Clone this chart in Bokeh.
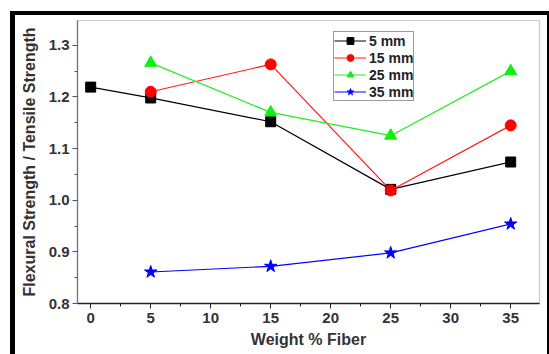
from bokeh.plotting import figure
from bokeh.models import (SingleIntervalTicker, Legend, LegendItem, Range1d, Div,
                          NumeralTickFormatter)
from bokeh.layouts import column, row
from bokeh.embed import file_html
from bokeh.resources import INLINE

# ---- data ----
x_5mm = [0, 5, 15, 25, 35]
y_5mm = [1.219, 1.198, 1.152, 1.021, 1.074]
x_15mm = [5, 15, 25, 35]
y_15mm = [1.210, 1.263, 1.019, 1.145]
x_25mm = [5, 15, 25, 35]
y_25mm = [1.266, 1.170, 1.125, 1.250]
x_35mm = [5, 15, 25, 35]
y_35mm = [0.861, 0.872, 0.898, 0.954]
series_labels = ["5 mm", "15 mm", "25 mm", "35 mm"]

FONT = "Liberation Sans"

p = figure(width=532, height=339, output_backend="svg", toolbar_location=None,
           x_range=Range1d(-1.1, 37.4), y_range=Range1d(0.8, 1.348),
           min_border_left=62, min_border_right=8, min_border_top=5, min_border_bottom=51)
p.background_fill_color = "white"
p.border_fill_color = "white"
p.outline_line_color = "#c8c8c8"
p.outline_line_width = 1.2
p.grid.visible = False

p.xaxis.ticker = SingleIntervalTicker(interval=5, num_minor_ticks=2)
p.yaxis.ticker = SingleIntervalTicker(interval=0.1, num_minor_ticks=2)
p.yaxis.formatter = NumeralTickFormatter(format="0.0")
for ax in (p.xaxis[0], p.yaxis[0]):
    ax.major_tick_out = 5
    ax.major_tick_in = 0
    ax.minor_tick_out = 3
    ax.minor_tick_in = 0
    ax.major_label_text_font = FONT
    ax.major_label_text_font_style = "bold"
    ax.major_label_text_font_size = "15px"
    ax.major_label_text_color = "#333333"
    ax.axis_label_text_font = FONT
    ax.axis_label_text_font_style = "bold"
    ax.axis_label_text_font_size = "16px"
    ax.axis_label_text_color = "#333333"
p.xaxis.axis_line_color = "#222222"
p.xaxis.major_tick_line_color = "#222222"
p.xaxis.minor_tick_line_color = "#222222"
p.xaxis.axis_line_width = 1.5
p.yaxis.axis_line_color = "#777777"
p.yaxis.major_tick_line_color = "#555555"
p.yaxis.minor_tick_line_color = "#555555"
p.yaxis.axis_line_width = 1.3
p.xaxis.axis_label = "Weight % Fiber"
p.yaxis.axis_label = "Flexural Strength / Tensile Strength"
p.xaxis.major_label_standoff = 4
p.yaxis.major_label_standoff = 3
p.xaxis.axis_label_standoff = 5
p.yaxis.axis_label_standoff = 8

l1 = p.line(x_5mm, y_5mm, line_color="black", line_width=1.2)
m1 = p.scatter(x_5mm, y_5mm, marker="square", size=10, fill_color="black", line_color="black")
l2 = p.line(x_15mm, y_15mm, line_color="#ff1a1a", line_width=1.2)
m2 = p.scatter(x_15mm, y_15mm, marker="circle", size=11, fill_color="#ff0000", line_color="#ff0000")
l3 = p.line(x_25mm, y_25mm, line_color="#22ee22", line_width=1.2)
m3 = p.scatter(x_25mm, y_25mm, marker="triangle", size=12, fill_color="#11ee11", line_color="#11ee11")
l4 = p.line(x_35mm, y_35mm, line_color="#0000ff", line_width=1.2)
m4 = p.scatter(x_35mm, y_35mm, marker="star", size=13, fill_color="#0000ff", line_color="#0000ff")

legend = Legend(items=[
    LegendItem(label=series_labels[0], renderers=[l1, m1]),
    LegendItem(label=series_labels[1], renderers=[l2, m2]),
    LegendItem(label=series_labels[2], renderers=[l3, m3]),
    LegendItem(label=series_labels[3], renderers=[l4, m4]),
], location=(256, 202))
legend.padding = 0
legend.spacing = 0
legend.margin = 0
legend.label_height = 17
legend.glyph_height = 17
legend.glyph_width = 32
legend.label_standoff = 3
legend.label_text_font = FONT
legend.label_text_font_style = "bold"
legend.label_text_font_size = "14px"
legend.label_text_color = "#222222"
legend.border_line_color = "#333333"
legend.border_line_width = 1.5
legend.background_fill_color = "white"
legend.background_fill_alpha = 1.0
p.add_layout(legend, "center")

# outer black frame around the figure image
top_bar = Div(text="", width=539, height=4, margin=0,
              styles={"background-color": "black"})
left_bar = Div(text="", width=5, height=339, margin=0,
               styles={"background-color": "black"})
right_bar = Div(text="", width=2, height=339, margin=0,
                styles={"background-color": "black"})
p.margin = 0
layout = column(top_bar, row(left_bar, p, right_bar, spacing=0, margin=0),
                spacing=0, margin=(11, 0, 0, 10))

open("out.html", "w").write(file_html(layout, INLINE))
